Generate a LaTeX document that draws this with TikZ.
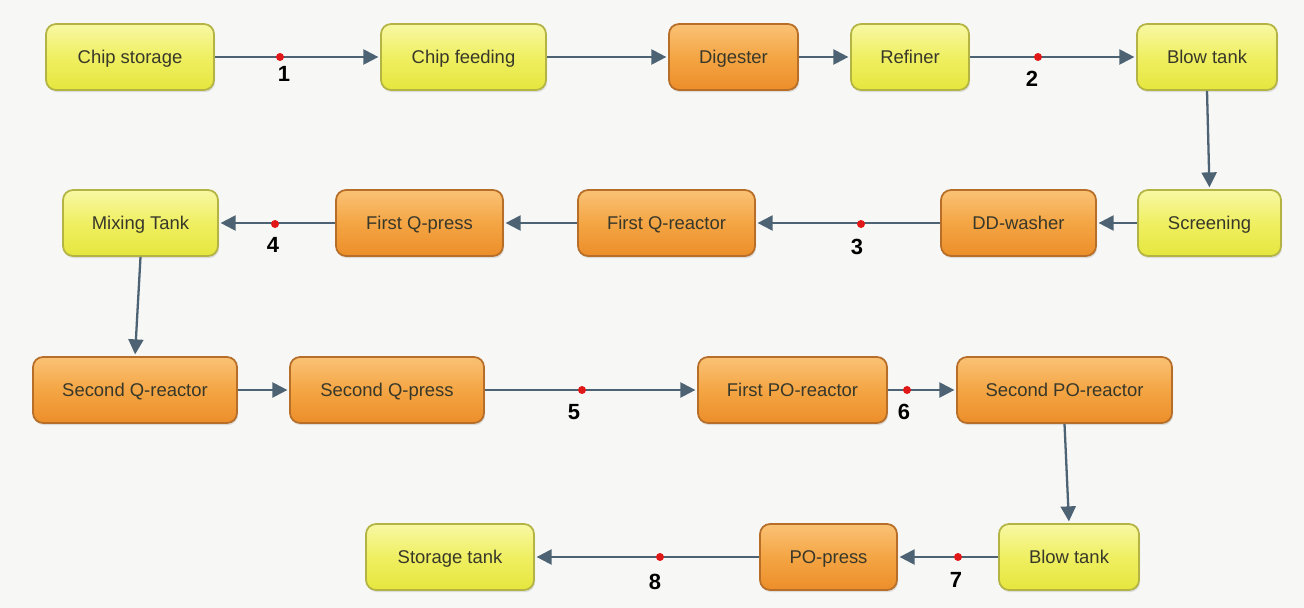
\documentclass[tikz,border=0pt]{standalone}
\usepackage{fontspec}
\setmainfont{Liberation Sans}
\usetikzlibrary{arrows.meta,shadows}
\definecolor{bg}{HTML}{F7F7F6}
\definecolor{ytop}{HTML}{F8F8A4}
\definecolor{ybot}{HTML}{E6E63E}
\definecolor{ymid}{HTML}{EFEF62}
\definecolor{ydraw}{HTML}{B4B445}
\definecolor{otop}{HTML}{FAC275}
\definecolor{obot}{HTML}{EC8E2A}
\definecolor{omid}{HTML}{F4A544}
\definecolor{odraw}{HTML}{B66E28}
\definecolor{arrc}{HTML}{4D6273}
\definecolor{txt}{HTML}{38382A}
\definecolor{dotc}{HTML}{E01818}
\tikzset{
  box/.style={rounded corners=0.2cm, minimum height=1.32cm, line width=1pt,
    font=\fontsize{10.5}{12}\selectfont, text=txt, text height=1.6ex, text depth=0.3ex,
    drop shadow={opacity=0.22, shadow xshift=0.6pt, shadow yshift=-1.2pt}},
  ybox/.style={box, draw=ydraw, top color=ytop, bottom color=ybot, middle color=ymid},
  obox/.style={box, draw=odraw, top color=otop, bottom color=obot, middle color=omid},
  arr/.style={draw=arrc, line width=1.3pt, -{Triangle[length=0.3cm,width=0.3cm]}, shorten >=1pt},
  rdot/.style={circle, fill=dotc, inner sep=0pt, minimum size=0.16cm},
  num/.style={font=\bfseries\fontsize{12.5}{14}\selectfont, text=black, inner sep=0pt}
}
\begin{document}
\begin{tikzpicture}[x=0.02cm, y=-0.02cm]
\useasboundingbox[fill=bg] (0,0) rectangle (1304,608);
% Row 1
\node[ybox, minimum width=3.36cm] (cs) at (130,57) {Chip storage};
\node[ybox, minimum width=3.30cm] (cf) at (463.5,57) {Chip feeding};
\node[obox, minimum width=2.58cm] (dg) at (733.5,57) {Digester};
\node[ybox, minimum width=2.36cm] (rf) at (910,57) {Refiner};
\node[ybox, minimum width=2.80cm] (bt) at (1207,57) {Blow tank};
% Row 2
\node[ybox, minimum width=3.10cm] (mt) at (140.5,223) {Mixing Tank};
\node[obox, minimum width=3.34cm] (fqp) at (419.5,223) {First Q-press};
\node[obox, minimum width=3.54cm] (fqr) at (666.5,223) {First Q-reactor};
\node[obox, minimum width=3.10cm] (dd) at (1018.5,223) {DD-washer};
\node[ybox, minimum width=2.86cm] (sc) at (1209.5,223) {Screening};
% Row 3
\node[obox, minimum width=4.08cm] (sqr) at (135,390) {Second Q-reactor};
\node[obox, minimum width=3.88cm] (sqp) at (387,390) {Second Q-press};
\node[obox, minimum width=3.78cm] (fpo) at (792.5,390) {First PO-reactor};
\node[obox, minimum width=4.30cm] (spo) at (1064.5,390) {Second PO-reactor};
% Row 4
\node[ybox, minimum width=3.36cm] (st) at (450,557) {Storage tank};
\node[obox, minimum width=2.74cm] (pop) at (828.5,557) {PO-press};
\node[ybox, minimum width=2.80cm] (bt2) at (1069,557) {Blow tank};
% Connectors
\draw[arr] (cs) -- (cf);
\draw[arr] (cf) -- (dg);
\draw[arr] (dg) -- (rf);
\draw[arr] (rf) -- (bt);
\draw[arr] (bt.south) -- (sc.north);
\draw[arr] (sc) -- (dd);
\draw[arr] (dd) -- (fqr);
\draw[arr] (fqr) -- (fqp);
\draw[arr] (fqp) -- (mt);
\draw[arr] (mt.south) -- (sqr.north);
\draw[arr] (sqr) -- (sqp);
\draw[arr] (sqp) -- (fpo);
\draw[arr] (fpo) -- (spo);
\draw[arr] (spo.south) -- (bt2.north);
\draw[arr] (bt2) -- (pop);
\draw[arr] (pop) -- (st);
% Sample points
\node[rdot] (p1) at (280,57) {};
\node[rdot] (p2) at (1038,57) {};
\node[rdot] (p3) at (861,224) {};
\node[rdot] (p4) at (275,224) {};
\node[rdot] (p5) at (582,390) {};
\node[rdot] (p6) at (907,390) {};
\node[rdot] (p7) at (958,557) {};
\node[rdot] (p8) at (660,557) {};
\node[num] (n1) at (284,74) {1};
\node[num] (n2) at (1032,79) {2};
\node[num] (n3) at (857,247) {3};
\node[num] (n4) at (273,245) {4};
\node[num] (n5) at (574,412) {5};
\node[num] (n6) at (904,412) {6};
\node[num] (n7) at (956,580) {7};
\node[num] (n8) at (655,582) {8};
\end{tikzpicture}
\end{document}
